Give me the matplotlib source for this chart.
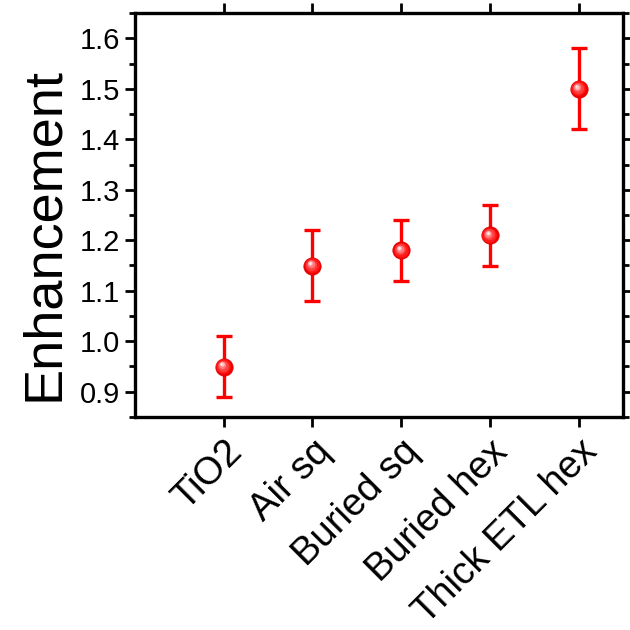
import matplotlib
matplotlib.use("Agg")
import matplotlib.pyplot as plt
import matplotlib.transforms as mtransforms
from matplotlib.ticker import MultipleLocator, FixedLocator
import numpy as np

categories = ["TiO2", "Air sq", "Buried sq", "Buried hex", "Thick ETL hex"]
values = [0.95, 1.15, 1.18, 1.21, 1.50]
errors = [0.06, 0.07, 0.06, 0.06, 0.08]
yticks = [0.9, 1.0, 1.1, 1.2, 1.3, 1.4, 1.5, 1.6]

plt.rcParams['font.family'] = ['Liberation Sans', 'DejaVu Sans']

fig = plt.figure(figsize=(6.3, 6.3), dpi=100)
ax = fig.add_axes([135/630, 1-417/630, (623-135)/630, (417-13)/630])

x = np.arange(1, len(categories) + 1)
ax.errorbar(x, values, yerr=errors, fmt='none', ecolor='#ff0000', elinewidth=2.4,
            capsize=6, capthick=2.4, zorder=2)
ax.plot(x, values, 'o', ms=12.5, color='#f00000', mec='#e00000', mew=0.5, zorder=3)
# sphere shading
shades = [(10.5, '#ff1a1a', 0.3), (8, '#ff4040', 0.7), (5.5, '#ff7a7a', 1.1), (3.2, '#ffc0c0', 1.5), (1.6, '#fff0f0', 1.7)]
for size, col, off in shades:
    tr = mtransforms.offset_copy(ax.transData, fig=fig, x=-off, y=off, units='points')
    ax.plot(x, values, 'o', ms=size, color=col, mec='none', transform=tr, zorder=4)

ax.set_xlim(0, 5.5)
ax.set_ylim(0.85, 1.65)
ax.xaxis.set_major_locator(FixedLocator(x))
ax.set_xticklabels(categories, rotation=45, ha='right', rotation_mode='anchor', fontsize=27.5)
shift = mtransforms.ScaledTranslation(5/100, 1/100, fig.dpi_scale_trans)
for lab in ax.get_xticklabels():
    lab.set_transform(lab.get_transform() + shift)
ax.set_yticks(yticks)
ax.set_yticklabels(["%.1f" % v for v in yticks], fontsize=21)
ax.yaxis.set_minor_locator(MultipleLocator(0.05))

ax.tick_params(axis='x', which='major', direction='out', length=7, width=2,
               top=True, bottom=True, pad=5)
ax.tick_params(axis='y', which='major', direction='out', length=7, width=2,
               left=True, right=True, pad=4)
ax.tick_params(axis='y', which='minor', direction='out', length=4, width=2,
               left=True, right=True)
for s in ax.spines.values():
    s.set_linewidth(2.4)

ax.set_ylabel("Enhancement", fontsize=39)
ax.yaxis.set_label_coords(-0.135, 0.453)

fig.savefig("out.png", dpi=100)
